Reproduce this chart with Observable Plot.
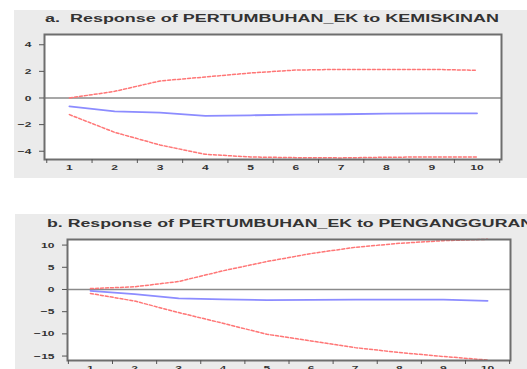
<!DOCTYPE html>
<html><head><meta charset="utf-8">
<script src="https://cdn.jsdelivr.net/npm/d3@7"></script>
<script src="https://cdn.jsdelivr.net/npm/@observablehq/plot@0.6"></script>
<style>
body{margin:0;width:527px;height:369px;overflow:hidden;background:#fff;position:relative;font-family:"Liberation Sans",Arial,sans-serif}
.bg{position:absolute;background:#ebebeb}
.panel{position:absolute;left:0}
</style></head><body>
<div class="bg" style="left:14px;top:10px;width:513px;height:168px"></div>
<div class="bg" style="left:15px;top:214px;width:512px;height:155px"></div>
<div id="a" class="panel" style="top:0px"></div>
<div id="b" class="panel" style="top:185px"></div>
<script>
const titleA = "a.  Response of PERTUMBUHAN_EK to KEMISKINAN";
const titleB = "b. Response of PERTUMBUHAN_EK to PENGANGGURAN";
const periods = [1, 2, 3, 4, 5, 6, 7, 8, 9, 10];
const xTickMarks = [0.5, 1.5, 2.5, 3.5, 4.5, 5.5, 6.5, 7.5, 8.5, 9.5, 10.5];
const yTicksA = [-4, -2, 0, 2, 4];
const yTicksB = [-15, -10, -5, 0, 5, 10];

const kemUpper = [0.0, 0.5, 1.28, 1.58, 1.88, 2.1, 2.15, 2.15, 2.15, 2.08];
const kemMean  = [-0.63, -1.0, -1.1, -1.35, -1.3, -1.25, -1.22, -1.17, -1.15, -1.15];
const kemLower = [-1.25, -2.58, -3.53, -4.23, -4.43, -4.48, -4.5, -4.45, -4.43, -4.43];

const pengUpper = [0.2, 0.6, 1.8, 4.2, 6.3, 8.1, 9.5, 10.4, 11.0, 11.3];
const pengMean  = [-0.3, -1.05, -2.0, -2.25, -2.4, -2.35, -2.3, -2.3, -2.3, -2.55];
const pengLower = [-0.9, -2.6, -5.2, -7.6, -10.1, -11.6, -13.1, -14.2, -15.1, -15.9];

const RED = "#ff7676", BLUE = "#8c8cff";

function panel(cfg) {
  const svg = Plot.plot({
    width: 527, height: cfg.height,
    marginLeft: cfg.ml, marginRight: cfg.mr, marginTop: cfg.mt, marginBottom: cfg.mb,
    x: {domain: cfg.xd},
    y: {domain: cfg.yd},
    style: {background: "transparent", overflow: "visible", fontSize: "8px", fontWeight: "bold", fontFamily: "'Liberation Sans', Arial, sans-serif", color: "#333"},
    marks: [
      Plot.frame({fill: "white"}),
      Plot.ruleY([0], {stroke: "#8a8a8a", strokeWidth: 1.6}),
      Plot.line(periods, {x: d => d, y: cfg.upper, stroke: RED, strokeWidth: 1.5, strokeDasharray: "3,2"}),
      Plot.line(periods, {x: d => d, y: cfg.lower, stroke: RED, strokeWidth: 1.5, strokeDasharray: "3,2"}),
      Plot.line(periods, {x: d => d, y: cfg.mean, stroke: BLUE, strokeWidth: 1.8}),
      Plot.frame({stroke: "#6e6e6e", strokeWidth: 2}),
      Plot.axisY({ticks: cfg.yt, tickSize: 5, tickPadding: 8, stroke: "#555", label: null}),
      Plot.axisX({ticks: xTickMarks, tickSize: 4, tickFormat: () => "", stroke: "#555", label: null}),
      Plot.axisX({ticks: periods, tickSize: 0, tickPadding: 5, label: null})
    ]
  });
  document.getElementById(cfg.id).appendChild(svg);
  // horizontally stretched look of the original
  d3.select(svg).selectAll("g[aria-label$='tick label'] text").each(function() {
    const t = this.textContent;
    if (!t) return;
    const w = this.getComputedTextLength();
    this.setAttribute("textLength", (w * 1.5).toFixed(1));
    this.setAttribute("lengthAdjust", "spacingAndGlyphs");
  });
  d3.select(svg).append("text")
    .attr("x", cfg.tx).attr("y", cfg.ty)
    .attr("text-anchor", "start")
    .attr("font-size", 11).attr("font-weight", "bold").attr("fill", "#333")
    .attr("textLength", cfg.tl).attr("lengthAdjust", "spacingAndGlyphs")
    .text(cfg.title);
}

panel({id: "a", height: 185, ml: 44, mr: 26, mt: 34, mb: 26,
  xd: [0.45, 10.54], yd: [-4.62, 4.77], yt: yTicksA,
  upper: kemUpper, mean: kemMean, lower: kemLower,
  title: titleA, tx: 45, ty: 22, tl: 454});

panel({id: "b", height: 184, ml: 67, mr: 17, mt: 54, mb: 9,
  xd: [0.48, 10.52], yd: [-16.0, 11.26], yt: yTicksB,
  upper: pengUpper, mean: pengMean, lower: pengLower,
  title: titleB, tx: 47, ty: 42, tl: 486});
</script>
</body></html>
